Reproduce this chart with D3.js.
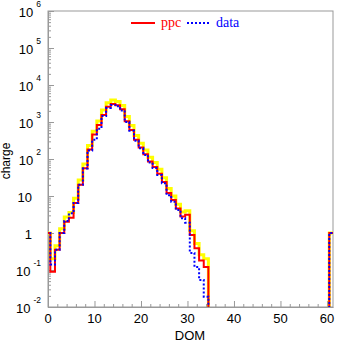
<!DOCTYPE html>
<html><head><meta charset="utf-8">
<script src="https://cdn.jsdelivr.net/npm/d3@7"></script>
<style>body{margin:0;background:#fff}</style>
</head><body>
<svg id="c" width="337" height="344"></svg>
<script>
// DOM bins (centered on integers)
const dom = [0,1,2,3,4,5,6,7,8,9,10,11,12,13,14,15,16,17,18,19,20,21,22,23,24,25,26,27,28,29,30,
  31,32,33,34,35,36,37,38,39,40,41,42,43,44,45,46,47,48,49,50,51,52,53,54,55,56,57,58,59,60,61];
// ppc (red)
const ppc = [1,0.09,0.35,1.0,2.0,2.6,6.5,20,56,180,460,830,1550,2600,3050,2850,2200,1050,610,330,
  205,135,86,61,40,24,12,7.8,4.6,2.8,3.1,0.88,0.39,0.18,0.12,
  0,0,0,0,0,0,0,0,0,0,0,0,0,0,0,0,0,0,0,0,0,0,0,0,0,0,1];
// data (blue dotted)
const data = [1,0.14,0.35,1.0,2.1,3.4,6.5,20,55,170,330,660,1450,2400,2900,2650,2050,1000,580,310,
  195,128,80,57,37,22,10.5,7,4.2,2.5,1.9,0.29,0.12,0.054,0.019,
  0,0,0,0,0,0,0,0,0,0,0,0,0,0,0,0,0,0,0,0,0,0,0,0,0,0,1];
// ppc upper band (yellow)
const ppcHigh = [1,0.2,0.45,1.3,2.7,3.6,8.7,27,73,230,560,1060,2100,3300,3950,3600,2800,1400,800,430,
  265,175,112,80,53,31,16,10,6,3.7,4.0,1.15,0.52,0.26,0.2,
  0,0,0,0,0,0,0,0,0,0,0,0,0,0,0,0,0,0,0,0,0,0,0,0,0,0,1];

const xTicks = [0,10,20,30,40,50,60];
const xMinor = [2,4,6,8,12,14,16,18,22,24,26,28,32,34,36,38,42,44,46,48,52,54,56,58];
const yTicks = [1e-2,1e-1,1,10,1e2,1e3,1e4,1e5,1e6];
const yTickBase = ["10","10","1","10","10","10","10","10","10"];
const yTickExp  = ["-2","-1","","","2","3","4","5","6"];

const svg = d3.select("#c");
const L=48, R=333, T=11, B=307;
const x = d3.scaleLinear([0,61.3],[L,R]);
const y = d3.scaleLog([1e-2,1e6],[B,T]);
const yv = v => v > 0 ? y(v) : B + 12;
const axisCol = "#999";

svg.append("defs").append("clipPath").attr("id","clip")
  .append("rect").attr("x",L).attr("y",T).attr("width",R-L).attr("height",B-T);

// frame
svg.append("rect").attr("x",L).attr("y",T).attr("width",R-L).attr("height",B-T)
  .attr("fill","none").attr("stroke",axisCol).attr("stroke-width",1);

// y minor ticks
const yMinor = [];
for (let e=-2;e<6;e++) for (let k=2;k<10;k++) yMinor.push(k*Math.pow(10,e));
const gy = svg.append("g").attr("transform",`translate(${L},0)`);
gy.call(d3.axisLeft(y).tickValues(yMinor).tickSize(-3).tickSizeOuter(0).tickFormat(""));
gy.call(g=>g.select(".domain").remove());
const gy2 = svg.append("g").attr("transform",`translate(${L},0)`);
gy2.call(d3.axisLeft(y).tickValues(yTicks).tickSize(-6).tickSizeOuter(0).tickFormat(""));
gy2.select(".domain").attr("stroke",axisCol);

const gx = svg.append("g").attr("transform",`translate(0,${B})`);
gx.call(d3.axisBottom(x).tickValues(xMinor).tickSize(-3).tickSizeOuter(0).tickFormat(""));
gx.call(g=>g.select(".domain").remove());
const gx2 = svg.append("g").attr("transform",`translate(0,${B})`);
gx2.call(d3.axisBottom(x).tickValues(xTicks).tickSize(-6).tickSizeOuter(0).tickFormat(""));
gx2.select(".domain").attr("stroke",axisCol);
svg.selectAll("g .tick line").attr("stroke",axisCol);

// y tick labels
yTicks.forEach((t,i)=>{
  const hasExp = yTickExp[i] !== "";
  const tx = svg.append("text")
    .attr("x", hasExp ? 41 : 32).attr("y", y(t)+5.5)
    .attr("text-anchor","end")
    .attr("font-family","'Liberation Sans', Arial, sans-serif").attr("font-size",13)
    .attr("fill","#000");
  tx.append("tspan").text(yTickBase[i]);
  if (hasExp) tx.append("tspan").attr("dx",3).attr("dy",-10).attr("font-size",8.5).text(yTickExp[i]);
});
// x tick labels
xTicks.forEach(t=>{
  svg.append("text").attr("x",x(t)).attr("y",323).attr("text-anchor","middle")
    .attr("font-family","'Liberation Sans', Arial, sans-serif").attr("font-size",13)
    .attr("fill","#000").text(t);
});
// axis titles
svg.append("text").attr("x",190).attr("y",340).attr("text-anchor","middle")
  .attr("font-family","'Liberation Sans', Arial, sans-serif").attr("font-size",13).text("DOM");
svg.append("text").attr("transform","translate(10,161) rotate(-90)").attr("text-anchor","middle")
  .attr("font-family","'Liberation Sans', Arial, sans-serif").attr("font-size",12).text("charge");

// step histograms
function pts(vals){
  const p = dom.map((d,i)=>[d-0.5, vals[i]]);
  p.push([dom[dom.length-1]+0.5, vals[vals.length-1]]);
  return p;
}
const line = d3.line().x(d=>x(d[0])).y(d=>yv(d[1])).curve(d3.curveStepAfter);
const gp = svg.append("g").attr("clip-path","url(#clip)");
gp.append("path").attr("d",line(pts(ppcHigh))).attr("fill","none").attr("stroke","#ffff00").attr("stroke-width",3);
gp.append("path").attr("d",line(pts(ppc))).attr("fill","none").attr("stroke","#ff0000").attr("stroke-width",2);
gp.append("path").attr("d",line(pts(data))).attr("fill","none").attr("stroke","#0000ff").attr("stroke-width",2)
  .attr("stroke-dasharray","2,2");

// legend
svg.append("line").attr("x1",131).attr("x2",155).attr("y1",23).attr("y2",23).attr("stroke","#ff0000").attr("stroke-width",2);
svg.append("text").attr("x",161).attr("y",27).attr("font-family","'Liberation Serif','Times New Roman',serif")
  .attr("font-size",14).attr("fill","#ff0000").text("ppc");
svg.append("line").attr("x1",187).attr("x2",211).attr("y1",23).attr("y2",23).attr("stroke","#0000ff").attr("stroke-width",2)
  .attr("stroke-dasharray","2,2");
svg.append("text").attr("x",216).attr("y",27).attr("font-family","'Liberation Serif','Times New Roman',serif")
  .attr("font-size",14).attr("fill","#0000ff").text("data");
</script>
</body></html>
